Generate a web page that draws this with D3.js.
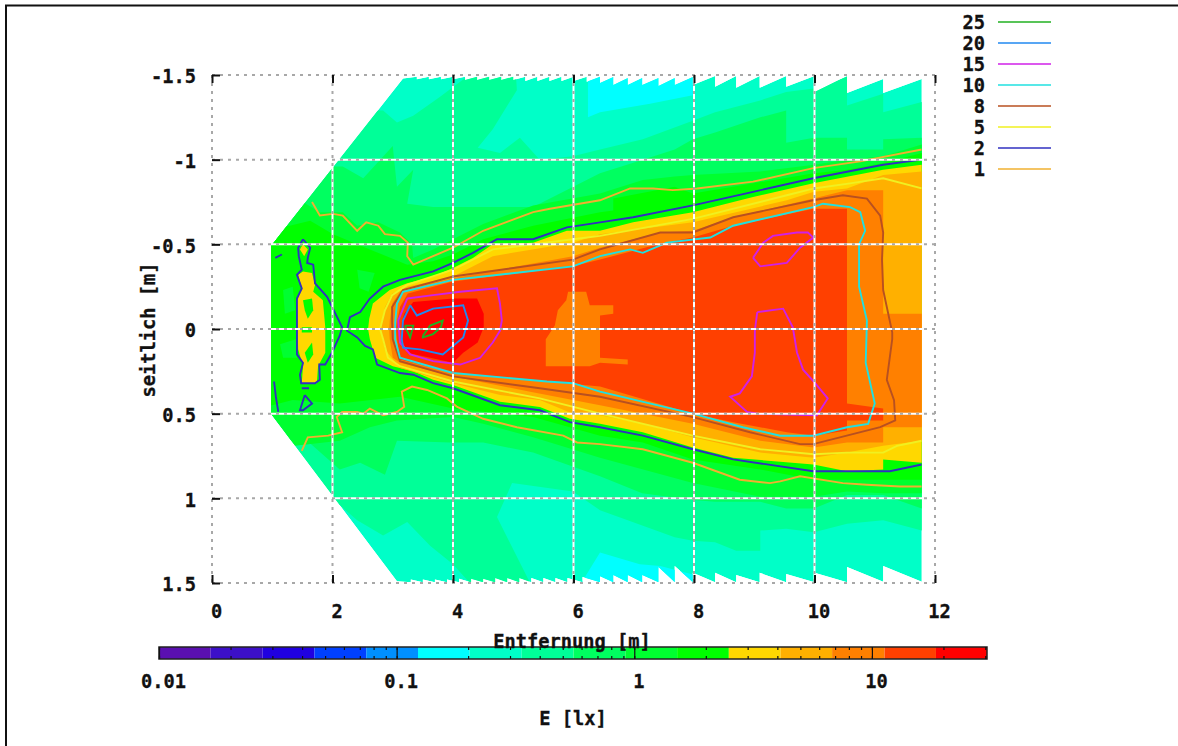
<!DOCTYPE html>
<html>
<head>
<meta charset="utf-8">
<script src="https://cdn.jsdelivr.net/npm/d3@7"></script>
<style>
  html, body { margin: 0; background: #fff; }
  svg { display: block; }
  text { font-family: "DejaVu Sans Mono", monospace; font-weight: bold; font-size: 18.7px; fill: #111; stroke: #111; stroke-width: 0.3px; }
</style>
</head>
<body>
<svg id="chart" width="1178" height="746"></svg>
<script>
// ticks
const xTicks = [0, 2, 4, 6, 8, 10, 12];
const yTicks = [-1.5, -1, -0.5, 0, 0.5, 1, 1.5];
const cbMajor = [0.01, 0.1, 1, 10];

// palette steps of the colour bar, E [lx]
const cbEdges = [0.01, 0.0165, 0.0273, 0.0451, 0.0745, 0.123, 0.203, 0.336, 0.555, 0.917, 1.515, 2.5, 4.13, 6.8, 11.3, 18.6, 30.5];
const cbColors = ["#5a10b0", "#3c10c8", "#2000e0", "#0040ff", "#0090ff", "#00ffff", "#00ffc8", "#00ff98", "#00ff60", "#00ff30", "#00ff00", "#ffd800", "#ffb000", "#ff8000", "#ff4000", "#ff0000"];

// contour legend
const contourLevels = [25, 20, 15, 10, 8, 5, 2, 1];
const contourColors = ["#20b020", "#2088f0", "#d020e8", "#20e0e0", "#b85020", "#f0f020", "#3030c0", "#f0b030"];

// measured area: saw teeth on the far edge, [x m, near y, far y]
const topTeeth = [[3.17,-1.48,-1.49],[3.4,-1.475,-1.49],[3.6,-1.475,-1.49],[3.8,-1.475,-1.49],[4.0,-1.475,-1.49],[4.2,-1.47,-1.49],[4.4,-1.47,-1.49],[4.6,-1.47,-1.49],[4.8,-1.47,-1.49],[5.0,-1.47,-1.49],[5.2,-1.465,-1.49],[5.4,-1.465,-1.49],[5.6,-1.465,-1.49],[5.8,-1.465,-1.49],[6.0,-1.465,-1.49],[6.22,-1.46,-1.49],[6.44,-1.453,-1.488],[6.66,-1.441,-1.483],[6.9,-1.441,-1.483],[7.14,-1.441,-1.483],[7.41,-1.435,-1.483],[7.68,-1.441,-1.488],[7.98,-1.441,-1.494],[8.35,-1.43,-1.494],[8.7,-1.424,-1.494],[9.09,-1.424,-1.494],[9.53,-1.43,-1.494],[10,-1.40,-1.494],[10.54,-1.394,-1.477],[11.14,-1.394,-1.477]];
const bottomTeeth = [[3.07,1.49,1.495],[3.3,1.48,1.495],[3.5,1.48,1.495],[3.7,1.48,1.495],[3.9,1.48,1.495],[4.1,1.475,1.495],[4.3,1.475,1.495],[4.5,1.475,1.495],[4.7,1.47,1.495],[4.9,1.47,1.495],[5.1,1.47,1.495],[5.3,1.47,1.495],[5.5,1.47,1.495],[5.7,1.47,1.495],[5.9,1.47,1.495],[6.15,1.465,1.495],[6.44,1.46,1.495],[6.66,1.453,1.495],[6.9,1.453,1.495],[7.14,1.453,1.495],[7.41,1.405,1.495],[7.68,1.40,1.495],[7.98,1.44,1.495],[8.35,1.44,1.495],[8.7,1.453,1.495],[9.09,1.44,1.495],[9.53,1.447,1.495],[10,1.44,1.495],[10.54,1.405,1.492],[11.14,1.40,1.492]];
const areaRight = 11.78;
const areaCorners = [[0.98, -0.49], [0.98, 0.5]];

// filled steps, outer to inner, points in [x m, y m]
const cyanTop = [[6.24,-1.53],[7.98,-1.53],[7.98,-1.38],[7.27,-1.33],[6.44,-1.28],[6.24,-1.25]];
const cyanBottom = [[6.06,1.54],[6.44,1.32],[7.1,1.39],[7.44,1.40],[7.98,1.45],[7.98,1.54]];
const step04 = [[2.84,-1.29],[3.07,-1.22],[3.34,-1.26],[3.78,-1.37],[4.23,-1.49],[4.28,-1.59],[5.03,-1.59],[5.06,-1.41],[4.66,-1.18],[4.41,-1.07],[4.78,-1.04],[5.11,-1.13],[5.44,-1.0],[5.99,-1.02],[6.44,-1.06],[7.15,-1.12],[7.98,-1.23],[8.35,-1.28],[9.1,-1.35],[9.53,-1.40],[9.99,-1.42],[10.54,-1.49],[10.54,-1.32],[11.14,-1.39],[11.14,-1.28],[11.78,-1.34],[12.2,-1.34],[12.2,1.19],[11.78,1.19],[11.14,1.13],[10.54,1.15],[9.99,1.20],[9.53,1.18],[9.1,1.19],[9.1,1.31],[8.7,1.31],[8.35,1.26],[7.98,1.25],[7.68,1.23],[6.9,1.13],[6.44,1.07],[5.99,0.96],[4.98,0.91],[4.73,1.11],[5.28,1.5],[4.28,1.5],[4.0,1.39],[3.62,1.28],[3.24,1.14],[2.84,1.22],[2.41,1.13],[2.12,1.04],[0.5,1.04],[0.5,-1.29]];
const step07 = [[2.17,-0.96],[2.51,-0.89],[3.0,-1.08],[3.07,-0.84],[3.34,-0.94],[3.24,-0.74],[3.67,-0.72],[5.33,-0.72],[6.44,-0.92],[7.15,-1.0],[7.68,-1.06],[7.98,-1.12],[8.35,-1.16],[9.1,-1.25],[9.53,-1.29],[9.53,-1.10],[9.99,-1.13],[10.54,-1.13],[10.54,-1.06],[11.14,-1.06],[11.14,-1.12],[11.78,-1.13],[12.2,-1.13],[12.2,1.06],[11.78,1.06],[11.14,0.98],[10.54,0.98],[9.99,1.06],[9.53,1.06],[9.1,1.02],[8.35,1.02],[7.98,1.01],[7.14,0.97],[6.44,0.87],[5.33,0.73],[4.5,0.67],[3.95,0.67],[3.07,0.66],[2.87,0.86],[2.46,0.79],[2.12,0.83],[1.58,0.66],[0.5,0.66],[0.5,-0.96]];
const step12 = [[1.46,-0.76],[1.79,-0.69],[2.17,-0.69],[2.41,-0.61],[2.76,-0.63],[3.12,-0.57],[3.32,-0.5],[3.34,-0.42],[3.67,-0.47],[4.0,-0.53],[4.5,-0.62],[5.33,-0.73],[6.44,-0.80],[7.15,-0.88],[7.68,-0.90],[7.98,-0.91],[9.1,-0.93],[9.99,-0.97],[10.54,-1.0],[11.14,-1.02],[11.78,-1.09],[12.2,-1.09],[12.2,0.97],[11.78,0.97],[11.14,0.97],[10.54,0.96],[9.99,0.99],[9.1,0.99],[7.98,0.91],[6.44,0.76],[5.33,0.64],[4.5,0.56],[4.0,0.52],[3.07,0.54],[2.62,0.58],[2.12,0.66],[1.38,0.69],[0.5,0.69],[0.5,-0.76]];
const step2 = [[1.29,-0.61],[1.63,-0.64],[2.01,-0.56],[2.62,-0.47],[3.24,-0.38],[3.67,-0.40],[4.0,-0.44],[4.5,-0.53],[5.33,-0.61],[6.44,-0.69],[6.66,-0.70],[6.66,-0.77],[7.68,-0.84],[7.98,-0.80],[9.99,-0.92],[10.54,-0.94],[11.14,-0.98],[11.78,-1.04],[12.2,-1.04],[12.2,0.89],[11.78,0.89],[10.54,0.89],[9.99,0.89],[9.1,0.83],[7.98,0.77],[7.15,0.67],[6.44,0.63],[5.33,0.52],[4.0,0.47],[3.12,0.40],[2.12,0.44],[1.34,0.42],[1.0,0.45],[0.5,0.45],[0.5,-0.55]];
const patchA = [[1.18,-0.23],[1.34,-0.25],[1.38,-0.11],[1.21,-0.09]];
const patchB = [[1.13,0.09],[1.39,0.06],[1.41,0.17],[1.18,0.17]];
const patchC = [[2.41,-0.35],[2.7,-0.33],[2.6,-0.22],[2.45,-0.24]];
const step3 = [[2.59,0],[2.61,-0.06],[2.67,-0.15],[2.95,-0.23],[3.24,-0.27],[3.67,-0.31],[4.0,-0.36],[4.33,-0.42],[4.66,-0.50],[5.33,-0.51],[5.89,-0.58],[6.44,-0.58],[6.99,-0.63],[7.98,-0.69],[8.98,-0.78],[9.98,-0.86],[11.14,-0.94],[11.78,-0.97],[12.2,-0.97],[12.2,0.79],[11.78,0.79],[11.14,0.77],[11.14,0.83],[10.54,0.84],[9.98,0.80],[8.65,0.76],[7.98,0.70],[7.15,0.61],[6.44,0.56],[5.94,0.53],[5.44,0.46],[4.78,0.43],[4.0,0.33],[3.67,0.30],[3.34,0.25],[3.0,0.22],[2.71,0.17],[2.62,0.06]];
const step5 = [[2.80,0],[2.82,-0.04],[2.87,-0.13],[2.99,-0.21],[3.24,-0.25],[4.0,-0.31],[4.66,-0.43],[5.99,-0.51],[6.44,-0.56],[7.98,-0.63],[9.54,-0.76],[9.99,-0.81],[10.54,-0.83],[11.14,-0.91],[11.78,-0.93],[12.2,-0.93],[12.2,0.66],[11.78,0.66],[11.14,0.69],[10.54,0.73],[9.99,0.76],[9.1,0.73],[7.98,0.64],[7.15,0.56],[6.44,0.51],[5.99,0.50],[5.44,0.42],[4.78,0.39],[4.0,0.32],[3.12,0.23],[2.87,0.12],[2.82,0.04]];
const step8 = [[2.94,0],[2.95,-0.05],[2.99,-0.15],[3.12,-0.22],[4.0,-0.30],[5.99,-0.43],[6.44,-0.48],[7.44,-0.57],[7.98,-0.58],[8.65,-0.66],[9.98,-0.77],[10.54,-0.82],[11.14,-0.82],[11.14,-0.09],[11.78,-0.09],[12.2,-0.09],[12.2,0.58],[11.78,0.58],[11.14,0.58],[11.14,0.67],[10.54,0.67],[9.99,0.70],[9.1,0.66],[7.98,0.56],[6.44,0.45],[5.28,0.37],[4.0,0.28],[3.12,0.20],[3.0,0.17],[2.95,0.06]];
const step13 = [[3.05,0],[3.07,-0.04],[3.12,-0.13],[3.25,-0.21],[4.0,-0.28],[5.99,-0.37],[6.44,-0.41],[7.40,-0.50],[7.98,-0.54],[8.65,-0.61],[9.98,-0.71],[10.54,-0.71],[10.54,0.44],[11.14,0.47],[11.14,0.54],[10.54,0.54],[10.54,0.60],[9.99,0.63],[9.54,0.61],[8.65,0.55],[7.98,0.50],[6.44,0.34],[4.0,0.26],[3.12,0.18],[3.07,0.06]];
const dipMiddle = [[5.91,-0.22],[6.21,-0.22],[6.27,-0.14],[6.66,-0.14],[6.66,-0.09],[6.44,-0.08],[6.44,0.17],[6.90,0.18],[6.90,0.21],[6.44,0.20],[6.27,0.22],[5.54,0.22],[5.54,0.06],[5.69,-0.02],[5.74,-0.11],[5.88,-0.17]];
const step22 = [[3.34,-0.16],[4.0,-0.18],[4.40,-0.18],[4.51,-0.09],[4.51,-0.01],[4.41,0.08],[4.17,0.14],[4.0,0.20],[3.24,0.14],[3.15,0.06],[3.15,-0.04],[3.19,-0.09]];
const spotMain = [[1.43,-0.32],[1.51,-0.34],[1.66,-0.33],[1.71,-0.26],[1.68,-0.22],[1.84,-0.17],[1.88,-0.01],[1.88,0.14],[1.76,0.22],[1.74,0.32],[1.49,0.32],[1.51,0.22],[1.43,0.12],[1.41,-0.17],[1.49,-0.24]];
const spotTop = [[1.51,-0.50],[1.59,-0.47],[1.53,-0.43],[1.46,-0.47]];
const spotHoleA = [[1.51,-0.17],[1.66,-0.18],[1.68,-0.11],[1.59,-0.06],[1.54,-0.11]];
const spotHoleB = [[1.49,-0.01],[1.66,-0.01],[1.66,0.02],[1.49,0.02]];
const spotHoleC = [[1.54,0.14],[1.66,0.08],[1.68,0.15],[1.59,0.20]];

// contour lines
const line25a = [[3.20,-0.02],[3.34,-0.02],[3.29,0.05],[3.20,-0.02]];
const line25b = [[3.50,0.04],[3.62,-0.02],[3.83,-0.05],[3.80,-0.01],[3.67,0.03],[3.50,0.05],[3.50,0.04]];
const line20 = [[3.29,-0.14],[3.17,-0.05],[3.15,0.06],[3.17,0.11],[3.45,0.12],[3.83,0.15],[4.17,0.05],[4.25,-0.05],[4.17,-0.14],[3.67,-0.12],[3.40,-0.08],[3.29,-0.14]];
const line15a = [[3.24,-0.18],[3.67,-0.20],[4.12,-0.22],[4.73,-0.24],[4.78,-0.15],[4.81,-0.05],[4.78,0.01],[4.66,0.08],[4.45,0.17],[4.12,0.21],[3.67,0.19],[3.29,0.15],[3.12,0.08],[3.09,-0.05],[3.24,-0.18]];
const line15b = [[8.98,-0.42],[9.15,-0.51],[9.31,-0.55],[9.71,-0.57],[9.89,-0.57],[9.98,-0.54],[9.76,-0.48],[9.54,-0.39],[9.10,-0.37],[8.98,-0.42]];
const line15c = [[9.05,-0.10],[9.48,-0.12],[9.64,-0.01],[9.71,0.14],[9.81,0.24],[10.01,0.32],[10.22,0.41],[10.04,0.51],[9.05,0.50],[8.88,0.49],[8.60,0.40],[8.76,0.38],[8.96,0.28],[9.01,0.14],[9.01,0.01],[9.05,-0.10]];
const line10 = [[3.04,-0.04],[3.07,-0.15],[3.17,-0.22],[4.0,-0.29],[5.99,-0.37],[6.44,-0.43],[6.94,-0.47],[7.15,-0.45],[7.55,-0.51],[8.27,-0.54],[8.65,-0.61],[9.98,-0.72],[10.14,-0.74],[10.59,-0.72],[10.76,-0.69],[10.84,-0.58],[10.74,-0.50],[10.74,-0.25],[10.87,-0.05],[10.85,0.20],[11.0,0.44],[10.89,0.56],[10.54,0.58],[9.98,0.63],[9.43,0.63],[8.81,0.58],[7.98,0.50],[6.44,0.37],[5.99,0.32],[5.56,0.31],[4.0,0.26],[3.12,0.17],[3.04,0.06],[3.04,-0.04]];
const line8 = [[2.99,-0.04],[2.99,-0.13],[3.17,-0.23],[4.0,-0.31],[5.99,-0.41],[6.44,-0.47],[7.44,-0.57],[7.98,-0.57],[8.65,-0.66],[9.98,-0.76],[10.47,-0.79],[10.87,-0.77],[11.09,-0.67],[11.14,-0.57],[11.12,-0.41],[11.14,-0.23],[11.29,0.02],[11.29,0.06],[11.2,0.30],[11.32,0.42],[11.34,0.54],[11.09,0.58],[9.98,0.68],[9.76,0.68],[8.93,0.61],[7.98,0.52],[6.44,0.40],[5.44,0.35],[4.0,0.28],[3.12,0.19],[3.0,0.06],[2.99,-0.04]];
const line5 = [[11.78,-0.83],[11.14,-0.89],[10.59,-0.86],[9.99,-0.83],[9.54,-0.79],[7.98,-0.65],[6.44,-0.55],[5.99,-0.53],[4.66,-0.47],[4.0,-0.35],[3.24,-0.26],[2.99,-0.20],[2.87,-0.11],[2.79,0],[2.84,0.06],[2.92,0.17],[3.12,0.22],[4.0,0.31],[5.44,0.41],[6.44,0.50],[7.98,0.63],[9.1,0.71],[9.99,0.74],[10.54,0.73],[11.14,0.73],[11.37,0.69],[11.78,0.66]];
const line2main = [[11.78,-1.0],[11.14,-0.97],[9.98,-0.89],[8.98,-0.81],[7.98,-0.73],[6.99,-0.66],[6.44,-0.63],[5.89,-0.60],[5.33,-0.53],[4.73,-0.53],[4.33,-0.45],[4.0,-0.39],[3.67,-0.34],[3.12,-0.29],[2.84,-0.25],[2.62,-0.18],[2.46,-0.10],[2.29,-0.07],[2.24,0.01],[2.41,0.05],[2.54,0.10],[2.67,0.12],[2.74,0.21],[3.12,0.26],[3.34,0.27],[3.67,0.32],[4.0,0.35],[4.78,0.45],[5.44,0.48],[5.94,0.55],[6.44,0.58],[7.15,0.63],[7.98,0.71],[8.65,0.77],[9.98,0.84],[10.54,0.84],[11.25,0.84],[11.78,0.80]];
const line2spot = [[1.51,-0.53],[1.63,-0.48],[1.59,-0.42],[1.58,-0.39],[1.68,-0.38],[1.71,-0.27],[1.91,-0.19],[2.16,-0.01],[2.12,0.04],[1.99,0.14],[1.88,0.21],[1.78,0.21],[1.79,0.30],[1.71,0.32],[1.48,0.32],[1.46,0.27],[1.51,0.20],[1.41,0.15],[1.41,-0.18],[1.49,-0.24],[1.41,-0.32],[1.49,-0.35],[1.44,-0.43],[1.43,-0.48],[1.51,-0.53]];
const line2a = [[1.05,-0.42],[1.16,-0.44]];
const line2b = [[1.03,0.31],[1.06,0.40],[1.10,0.49]];
const line2c = [[1.49,0.35],[1.61,0.35]];
const line2d = [[1.54,0.39],[1.66,0.44],[1.51,0.48],[1.46,0.48],[1.54,0.39]];
const line1top = [[1.66,-0.75],[1.79,-0.67],[2.01,-0.68],[2.17,-0.67],[2.41,-0.58],[2.56,-0.63],[2.76,-0.61],[2.87,-0.56],[3.12,-0.55],[3.25,-0.51],[3.24,-0.43],[3.34,-0.38],[3.67,-0.43],[4.0,-0.48],[4.5,-0.58],[5.33,-0.69],[5.61,-0.71],[6.44,-0.76],[6.94,-0.83],[7.32,-0.83],[7.65,-0.82],[8.05,-0.83],[8.98,-0.87],[9.98,-0.95],[10.76,-0.99],[11.78,-1.06]];
const line1bottom = [[1.49,0.72],[1.59,0.64],[1.93,0.63],[2.16,0.61],[2.07,0.52],[2.16,0.49],[2.41,0.49],[2.51,0.50],[2.62,0.47],[2.84,0.51],[3.07,0.49],[3.19,0.46],[3.15,0.37],[3.32,0.34],[3.57,0.36],[3.90,0.41],[4.07,0.46],[4.50,0.53],[5.06,0.58],[5.83,0.63],[6.06,0.67],[6.44,0.68],[7.15,0.71],[7.98,0.79],[8.76,0.89],[9.26,0.91],[9.43,0.90],[9.76,0.87],[10.47,0.91],[10.87,0.92],[11.42,0.93],[11.78,0.93]];

// what gets painted, in this order
const fills = [
    [0.15, cyanTop], [0.15, cyanBottom],
    [0.4, step04], [0.7, step07], [1.2, step12], [2, step2],
    [1.2, patchA], [1.2, patchB], [1.2, patchC],
    [3, spotMain], [3, spotTop], [2, spotHoleA], [2, spotHoleB], [2, spotHoleC],
    [3, step3], [5, step5], [8, step8], [13, step13], [8, dipMiddle], [22, step22]
];
const lines = [
    [1, line1top], [1, line1bottom],
    [2, line2main], [2, line2spot], [2, line2a], [2, line2b], [2, line2c], [2, line2d],
    [5, line5], [8, line8], [10, line10],
    [15, line15a], [15, line15b], [15, line15c],
    [20, line20], [25, line25a], [25, line25b]
];

const svg = d3.select("#chart");

let x = d3.scaleLinear().domain([0, 12]).range([212, 935]);
let y = d3.scaleLinear().domain([-1.5, 1.5]).range([75, 583]);
let cbScale = d3.scaleLog().domain([0.01, 30.5]).range([159, 987]);
let stepColor = d3.scaleThreshold().domain(cbEdges.slice(1, -1)).range(cbColors);
let lineColor = d3.scaleOrdinal().domain(contourLevels).range(contourColors);
let path = d3.line().x(d => x(d[0])).y(d => y(d[1]));

// page frame
svg.append("path").attr("d", "M6,746V5.5H1178").attr("fill", "none").attr("stroke", "#111").attr("stroke-width", 2);

// outline of the measured area, from the teeth arrays
let outline = [areaCorners[0]];
topTeeth.forEach((t, i) => {
    let next = i + 1 < topTeeth.length ? topTeeth[i + 1][0] : areaRight;
    outline.push([t[0], t[1]], [next, t[2]]);
});
for (let i = bottomTeeth.length - 1; i >= 0; i--) {
    let next = i + 1 < bottomTeeth.length ? bottomTeeth[i + 1][0] : areaRight;
    outline.push([next, bottomTeeth[i][2]], [bottomTeeth[i][0], bottomTeeth[i][1]]);
}
outline.push(areaCorners[1]);

svg.append("clipPath").attr("id", "area").append("path").attr("d", path(outline) + "Z");

let map = svg.append("g").attr("clip-path", "url(#area)");
map.append("path").attr("d", path(outline) + "Z").attr("fill", stepColor(0.25));

map.selectAll("path.step")
    .data(fills)
    .join("path")
    .attr("class", "step")
    .attr("d", d => path(d[1]) + "Z")
    .attr("fill", d => stepColor(d[0]));

map.selectAll("path.contour")
    .data(lines)
    .join("path")
    .attr("class", "contour")
    .attr("d", d => path(d[1]))
    .attr("fill", "none")
    .attr("stroke", d => lineColor(d[0]))
    .attr("stroke-width", 1.9);

// grid: white line with grey dashes on top, so only the grey shows on the paper
let grid = svg.append("g").attr("fill", "none");
["#fff", "#a8a8a8"].forEach((c, k) => {
    let layer = grid.append("g").attr("stroke", c).attr("stroke-width", 2);
    if (k == 1) layer.attr("stroke-dasharray", "3 5");
    layer.selectAll("line.v").data(xTicks).join("line").attr("class", "v")
        .attr("x1", d => x(d)).attr("x2", d => x(d)).attr("y1", y(-1.5)).attr("y2", y(1.5));
    layer.selectAll("line.h").data(yTicks).join("line").attr("class", "h")
        .attr("x1", x(0)).attr("x2", x(12)).attr("y1", d => y(d)).attr("y2", d => y(d));
});

function styleAxis(g) {
    g.select(".domain").remove();
    g.selectAll("line").attr("stroke", "#111").attr("stroke-width", 2);
    g.selectAll("text").style("font-size", null).attr("font-size", null).attr("font-family", null);
}

let bottomAxis = svg.append("g").attr("transform", `translate(0,${y(1.5)})`)
    .call(d3.axisBottom(x).tickValues(xTicks).tickSize(-8).tickFormat(d3.format("d")));
styleAxis(bottomAxis);
bottomAxis.selectAll("text").attr("y", 28).attr("dy", ".35em").attr("dx", 4);

let topAxis = svg.append("g").attr("transform", `translate(0,${y(-1.5)})`)
    .call(d3.axisTop(x).tickValues(xTicks).tickSize(-8).tickFormat(""));
styleAxis(topAxis);

let leftAxis = svg.append("g").attr("transform", `translate(${x(0)},0)`)
    .call(d3.axisLeft(y).tickValues(yTicks).tickSize(-8).tickFormat(d => String(d)));
styleAxis(leftAxis);
leftAxis.selectAll("text").attr("x", -16).attr("dy", "0.42em");

svg.append("text").attr("transform", "translate(148,330) rotate(-90)")
    .attr("text-anchor", "middle").attr("dy", ".35em").text("seitlich [m]");

// legend
let legend = svg.selectAll("g.key").data(contourLevels).join("g").attr("class", "key")
    .attr("transform", (d, i) => `translate(0,${22 + i * 21})`);
legend.append("text").attr("x", 985).attr("dy", ".35em").attr("text-anchor", "end").text(d => d);
legend.append("line").attr("x1", 998).attr("x2", 1051).attr("stroke", d => lineColor(d)).attr("stroke-width", 1.5);

// colour bar
let cbTop = 647, cbBottom = 659;
let cb = svg.append("g");
cb.selectAll("rect").data(cbColors).join("rect")
    .attr("x", (d, i) => cbScale(cbEdges[i]))
    .attr("width", (d, i) => cbScale(cbEdges[i + 1]) - cbScale(cbEdges[i]))
    .attr("y", cbTop).attr("height", cbBottom - cbTop)
    .attr("fill", d => d);
cb.append("rect").attr("x", cbScale(0.01)).attr("y", cbTop)
    .attr("width", cbScale(30.5) - cbScale(0.01)).attr("height", cbBottom - cbTop)
    .attr("fill", "none").attr("stroke", "#222").attr("stroke-width", 1.5);

let minorTicks = cbScale.ticks();
let cbLower = cb.append("g").attr("transform", `translate(0,${cbBottom})`)
    .call(d3.axisBottom(cbScale).tickValues(minorTicks).tickSize(-3).tickFormat(""));
let cbUpper = cb.append("g").attr("transform", `translate(0,${cbTop})`)
    .call(d3.axisTop(cbScale).tickValues(minorTicks).tickSize(-3).tickFormat(""));
let cbLabels = cb.append("g").attr("transform", `translate(0,${cbBottom})`)
    .call(d3.axisBottom(cbScale).tickValues(cbMajor).tickSize(-(cbBottom - cbTop)).tickFormat(d => String(d)));
[cbLower, cbUpper, cbLabels].forEach(styleAxis);
cb.selectAll("g.tick line").attr("stroke-width", 1.2);
cbLabels.selectAll("text").attr("y", 22).attr("dy", ".35em").attr("dx", 4);

// this label sits on the top edge of the bar
svg.append("text").attr("x", 572).attr("y", 648)
    .attr("text-anchor", "middle").text("Entfernung [m]");

svg.append("text").attr("x", 573).attr("y", 718).attr("dy", ".35em")
    .attr("text-anchor", "middle").text("E [lx]");
</script>
</body>
</html>
